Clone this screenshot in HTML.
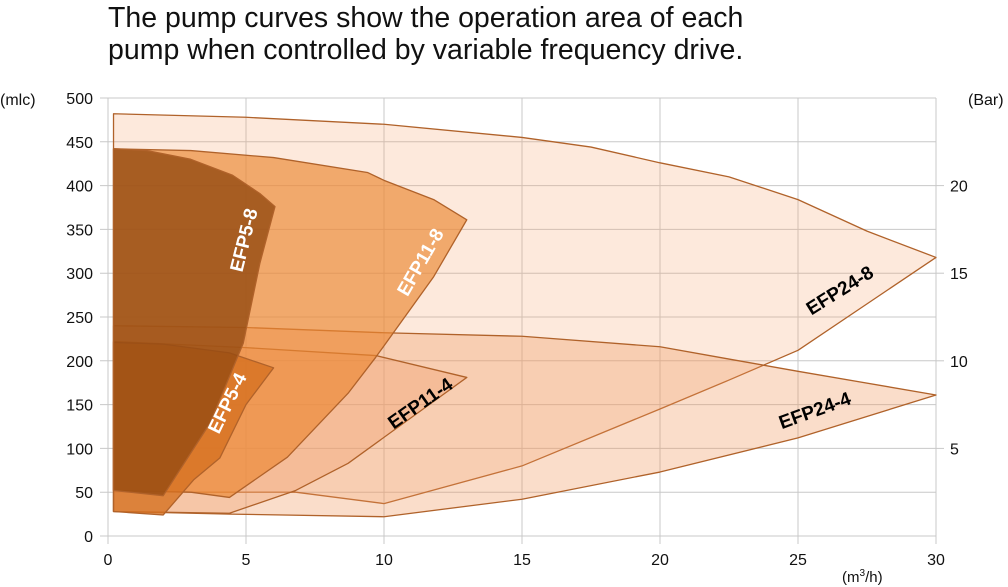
<!DOCTYPE html>
<html><head><meta charset="utf-8"><style>
body{margin:0;background:#fff;}
svg{display:block;font-family:"Liberation Sans",Arial,sans-serif;}
</style></head><body>
<svg id="chart" width="1008" height="587" viewBox="0 0 1008 587">
<text x="108" y="27" font-size="28.5" fill="#111">The pump curves show the operation area of each</text>
<text x="108" y="59" font-size="28.5" fill="#111">pump when controlled by variable frequency drive.</text>
<text x="0" y="105" font-size="16" fill="#111">(mlc)</text>
<text x="968" y="105" font-size="16" fill="#111">(Bar)</text>
<text x="842" y="582" font-size="15" fill="#111">(m<tspan font-size="10" dy="-6">3</tspan><tspan dy="6">/h)</tspan></text>
<g id="grid"></g>
<g id="areas"></g>
<g id="labels"></g>
</svg>
<script>
const xTicks=[0,5,10,15,20,25,30];
const yTicks=[0,50,100,150,200,250,300,350,400,450,500];
const barTicks=[5,10,15,20];
const seriesNames=["EFP24-8","EFP24-4","EFP11-4","EFP11-8","EFP5-4","EFP5-8"];
const efp24_8=[[0.2,52],[0.2,482],[5,478],[10,470],[15,455],[17.5,444],[20,426],[22.5,410],[25,384],[27.5,348],[30,318],[27.5,265],[25,212],[22.5,178],[20,145],[15,80],[10,37],[6.8,50],[3,50]];
const efp24_4=[[0.2,28],[0.2,240],[5,238],[10,232],[15,228],[20,216],[22.5,202],[25,188],[30,161],[25,112],[20,73],[15,42],[10,22],[4.4,25]];
const efp11_4=[[0.2,28],[0.2,222],[5,215],[9.7,206],[13,181],[8.7,83],[6.8,52],[4.4,26]];
const efp11_8=[[0.2,52],[0.2,442],[3,440],[6,432],[9.4,415],[10,406],[11.8,384],[13,361],[11.8,296],[9.7,204],[8.7,163],[6.5,90],[4.4,44],[3,50]];
const efp5_4=[[0.2,28],[0.2,221],[2,219],[4.4,209],[6,192],[5,150],[4.05,89],[3.1,64],[2,24]];
const efp5_8=[[0.2,52],[0.2,442],[1.4,440],[3,430],[4.5,412],[5.5,391],[6.05,376],[5.5,311],[4.9,220],[3.7,129],[2,46]];
const seriesData=[efp24_8,efp24_4,efp11_4,efp11_8,efp5_4,efp5_8];
const fills=["rgba(245,165,110,0.24)","rgba(240,150,90,0.32)","rgba(240,160,110,0.38)","rgba(236,135,50,0.66)","rgba(214,112,32,0.8)","rgba(150,76,18,0.82)"];
const labelPos=[[26.5,281,-32,"#000"],[25.6,144,-20,"#000"],[11.3,152,-35,"#000"],[11.3,313,-60,"#fff"],[4.3,152,-64,"#fff"],[4.9,338,-76,"#fff"]];
const X=v=>108+v*27.6, Y=v=>536-v*0.876;
const NS="http://www.w3.org/2000/svg";
function mk(t,a,p){const e=document.createElementNS(NS,t);for(const k in a)e.setAttribute(k,a[k]);p.appendChild(e);return e;}
const grid=document.getElementById('grid');
yTicks.forEach(v=>{
 const l=mk('line',{x1:100,x2:936,y1:Y(v),y2:Y(v),stroke:'#c8c8c8','stroke-width':1},grid);
 
 
 const t=mk('text',{x:93,y:Y(v)+6,'font-size':16,'text-anchor':'end',fill:'#111'},grid);
 t.textContent=v;
 
 
});
xTicks.forEach(v=>{
 const l=mk('line',{x1:X(v),x2:X(v),y1:Y(500),y2:544,stroke:'#c8c8c8','stroke-width':1},grid);
 
 
 const t=mk('text',{x:X(v),y:565,'font-size':16,'text-anchor':'middle',fill:'#111'},grid);
 t.textContent=v;
 
 
});
barTicks.forEach(v=>{
 const l=mk('line',{x1:936,x2:944,y1:Y(v*20),y2:Y(v*20),stroke:'#c8c8c8','stroke-width':1},grid);
 
 
 const t=mk('text',{x:950,y:Y(v*20)+6,'font-size':16,fill:'#111'},grid);
 t.textContent=v;
 
 
});
const areas=document.getElementById('areas'), labels=document.getElementById('labels');
seriesData.forEach((d,i)=>{
 const p=mk('polygon',{points:d.map(q=>X(q[0])+','+Y(q[1])).join(' '),fill:fills[i],stroke:'#b0622a','stroke-width':1.3,'stroke-linejoin':'round'},areas);
 
 
 const lp=labelPos[i];
 const cx=X(lp[0]), cy=Y(lp[1]);
 const t=mk('text',{x:cx,y:cy+7,'font-size':19,'font-weight':'bold','text-anchor':'middle',fill:lp[3],transform:`rotate(${lp[2]} ${cx} ${cy})`},labels);
 t.textContent=seriesNames[i];
 
 
});
</script>
</body></html>
